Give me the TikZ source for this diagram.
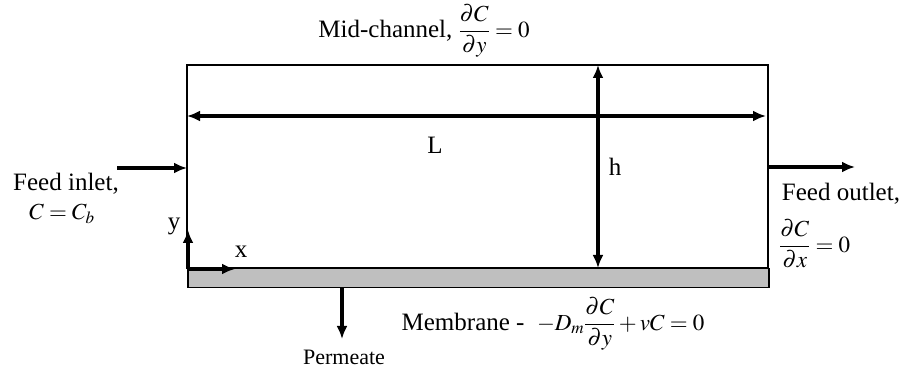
\documentclass[tikz,border=0pt]{standalone}
\usepackage{amsmath}
\usepackage{mathptmx}
\usepackage{fontspec}
\setmainfont{Liberation Serif}
\usetikzlibrary{arrows.meta,positioning,calc}
\tikzstyle{line} = [draw, line width=3.2pt, -{Latex[length=13pt,width=11pt]}]
\tikzstyle{dimline} = [draw, line width=3.2pt, {Latex[length=13pt,width=11pt]}-{Latex[length=13pt,width=11pt]}]
\tikzstyle{txt} = [font=\fontsize{25}{29}\selectfont, inner sep=0pt]
\tikzstyle{smalltxt} = [font=\fontsize{22}{26}\selectfont, inner sep=0pt]
\newcommand{\eqsize}{\fontsize{23}{27}\selectfont}

\begin{document}
\begin{tikzpicture}[x=1pt, y=-1pt]
    \useasboundingbox (0,0) rectangle (908,371);
    % channel and membrane
    \coordinate (tl) at (187,65);
    \coordinate (br) at (768,268);
    \coordinate (bl) at (tl |- br);
    \draw [line width=2pt] (tl) rectangle (br);
    \node [draw, line width=1.5pt, fill=gray!50, minimum width=581pt, minimum height=19pt, inner sep=0pt, anchor=north west] (mem) at (bl) {};

    % length and height
    \coordinate (lleft) at (187,116);
    \coordinate (lright) at (766,116);
    \path [dimline] (lleft) -- (lright);
    \node [txt] (lenL) at (435,145) {L};
    \coordinate (htop) at (598,65);
    \coordinate (hbot) at (598,268);
    \path [dimline] (htop) -- (hbot);
    \node [txt] (hgt) at (615,167) {h};

    % inlet and outlet
    \coordinate (inlet) at (117,168);
    \path [line] (inlet) -- (inlet -| tl);
    \node [txt] (feedin) at (66,184) {Feed inlet,};
    \node [txt] (cb) at (62,214) {\eqsize$C = C_b$};
    \coordinate (outlet) at (855,167);
    \path [line] (outlet -| br) -- (outlet);
    \node [txt] (feedout) at (841,194) {Feed outlet,};
    \node [txt, anchor=west] (dcdx) at (779,244) {\eqsize$\dfrac{\partial C}{\partial x}=0$};

    % axes
    \coordinate (orig) at (188,269);
    \coordinate (yend) at (188,230);
    \coordinate (xend) at (235,269);
    \path [line] (orig) -- (yend);
    \path [line] (orig) -- (xend);
    \node [txt] (ylab) at (174,226) {y};
    \node [txt] (xlab) at (241,252) {x};

    % permeate
    \coordinate (pend) at (342,339);
    \path [line] (mem.south -| pend) -- (pend);
    \node [smalltxt] (perm) at (344,357) {Permeate};

    % boundary conditions
    \node [txt] (mid) at (424,31) {Mid-channel, \eqsize$\dfrac{\partial C}{\partial y}=0$};
    \node [txt] (membr) at (553,324) {Membrane - \ \eqsize$-D_m\dfrac{\partial C}{\partial y}+vC=0$};
\end{tikzpicture}
\end{document}
